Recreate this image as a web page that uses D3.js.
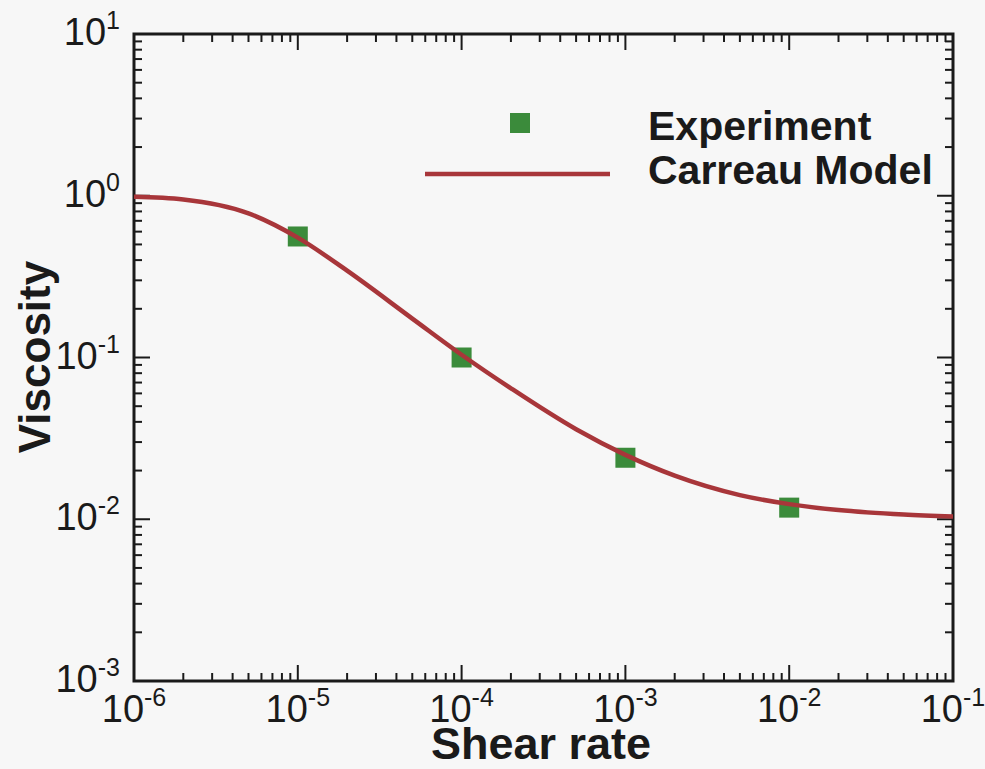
<!DOCTYPE html>
<html>
<head>
<meta charset="utf-8">
<script src="https://cdn.jsdelivr.net/npm/d3@7"></script>
<style>
  html, body { margin: 0; padding: 0; background: #f7f7f7; }
  svg { display: block; }
  text { font-family: "Liberation Sans", Arial, sans-serif; fill: #1a1a1a; }
</style>
</head>
<body>
<svg id="chart" width="985" height="769"></svg>
<script>
// Measured viscosity at four shear rates
const expShear = [1e-5, 1e-4, 1e-3, 1e-2];
const expVisc  = [0.56, 0.100, 0.024, 0.0118];

// Carreau model curve, sampled along the shear-rate range
const modelShear = [1e-6, 2e-6, 5e-6, 1e-5, 2e-5, 5e-5, 1e-4, 2e-4, 5e-4,
                    1e-3, 2e-3, 5e-3, 1e-2, 2e-2, 5e-2, 1e-1];
const modelVisc  = [0.986, 0.949, 0.778, 0.551, 0.344, 0.174, 0.104, 0.0645, 0.036,
                    0.025, 0.0186, 0.0141, 0.0124, 0.0114, 0.0107, 0.0104];

// Decade tick exponents
const xExponents = [-6, -5, -4, -3, -2, -1];
const yExponents = [-3, -2, -1, 0, 1];

const legendLabels = ["Experiment", "Carreau Model"];

const margin = { left: 134, right: 32, top: 34, bottom: 88 };
const W = 985, H = 769;
const innerW = W - margin.left - margin.right;
const innerH = H - margin.top - margin.bottom;

const svg = d3.select("#chart");
const g = svg.append("g").attr("transform", `translate(${margin.left},${margin.top})`);

const x = d3.scaleLog().domain([1e-6, 1e-1]).range([0, innerW]);
const y = d3.scaleLog().domain([1e-3, 1e1]).range([innerH, 0]);

const majorLen = 16, minorLen = 8;
const xMajor = xExponents.map(e => Math.pow(10, e));
const yMajor = yExponents.map(e => Math.pow(10, e));
const minorOf = majors => {
  const out = [];
  for (let i = 0; i < majors.length - 1; i++)
    for (let k = 2; k <= 9; k++) out.push(majors[i] * k);
  return out;
};
const xMinor = minorOf(xMajor);
const yMinor = minorOf(yMajor);

// Inward ticks on all four sides
const tickG = g.append("g").attr("stroke", "#1a1a1a").attr("stroke-width", 2);
const addX = (vals, len) => {
  vals.forEach(v => {
    tickG.append("line").attr("x1", x(v)).attr("x2", x(v)).attr("y1", innerH).attr("y2", innerH - len);
    tickG.append("line").attr("x1", x(v)).attr("x2", x(v)).attr("y1", 0).attr("y2", len);
  });
};
const addY = (vals, len) => {
  vals.forEach(v => {
    tickG.append("line").attr("y1", y(v)).attr("y2", y(v)).attr("x1", 0).attr("x2", len);
    tickG.append("line").attr("y1", y(v)).attr("y2", y(v)).attr("x1", innerW).attr("x2", innerW - len);
  });
};
addX(xMajor, majorLen); addX(xMinor, minorLen);
addY(yMajor, majorLen); addY(yMinor, minorLen);

// Frame
g.append("rect").attr("x", 0).attr("y", 0).attr("width", innerW).attr("height", innerH)
  .attr("fill", "none").attr("stroke", "#1a1a1a").attr("stroke-width", 3);

// Tick labels: 10 with superscript exponent
const labelSize = 38, supSize = 25;
xExponents.forEach(e => {
  const t = g.append("text")
    .attr("x", x(Math.pow(10, e))).attr("y", innerH + 41)
    .attr("text-anchor", "middle").attr("font-size", labelSize);
  t.append("tspan").text("10");
  t.append("tspan").attr("font-size", supSize).attr("dy", -16).text(e);
});
yExponents.forEach(e => {
  const t = g.append("text")
    .attr("x", -14).attr("y", y(Math.pow(10, e)) + 11)
    .attr("text-anchor", "end").attr("font-size", labelSize);
  t.append("tspan").text("10");
  t.append("tspan").attr("font-size", supSize).attr("dy", -16).text(e);
});

// Axis titles
svg.append("text").attr("x", 541).attr("y", 759)
  .attr("text-anchor", "middle").attr("font-size", 45).attr("font-weight", "bold")
  .text("Shear rate");
svg.append("text").attr("transform", `translate(50,357) rotate(-90)`)
  .attr("text-anchor", "middle").attr("font-size", 44).attr("font-weight", "bold")
  .text("Viscosity");

const lineColor = "#a8363a", markerColor = "#3b8b3b", markerSize = 20;

// Experimental points
const pts = expShear.map((s, i) => ({ s, v: expVisc[i] }));
g.append("g").selectAll("rect").data(pts).join("rect")
  .attr("x", d => x(d.s) - markerSize / 2).attr("y", d => y(d.v) - markerSize / 2)
  .attr("width", markerSize).attr("height", markerSize).attr("fill", markerColor);

// Model curve
const curve = modelShear.map((s, i) => ({ s, v: modelVisc[i] }));
g.append("path").datum(curve)
  .attr("fill", "none").attr("stroke", lineColor).attr("stroke-width", 4.5)
  .attr("d", d3.line().x(d => x(d.s)).y(d => y(d.v)).curve(d3.curveMonotoneX));

// Legend
const lg = svg.append("g");
lg.append("rect").attr("x", 510).attr("y", 113).attr("width", markerSize).attr("height", markerSize)
  .attr("fill", markerColor);
lg.append("line").attr("x1", 425).attr("x2", 610).attr("y1", 174).attr("y2", 174)
  .attr("stroke", lineColor).attr("stroke-width", 4.5);
lg.append("text").attr("x", 648).attr("y", 140).attr("font-size", 41).attr("font-weight", "bold")
  .text(legendLabels[0]);
lg.append("text").attr("x", 648).attr("y", 184).attr("font-size", 41).attr("font-weight", "bold")
  .text(legendLabels[1]);
</script>
</body>
</html>
